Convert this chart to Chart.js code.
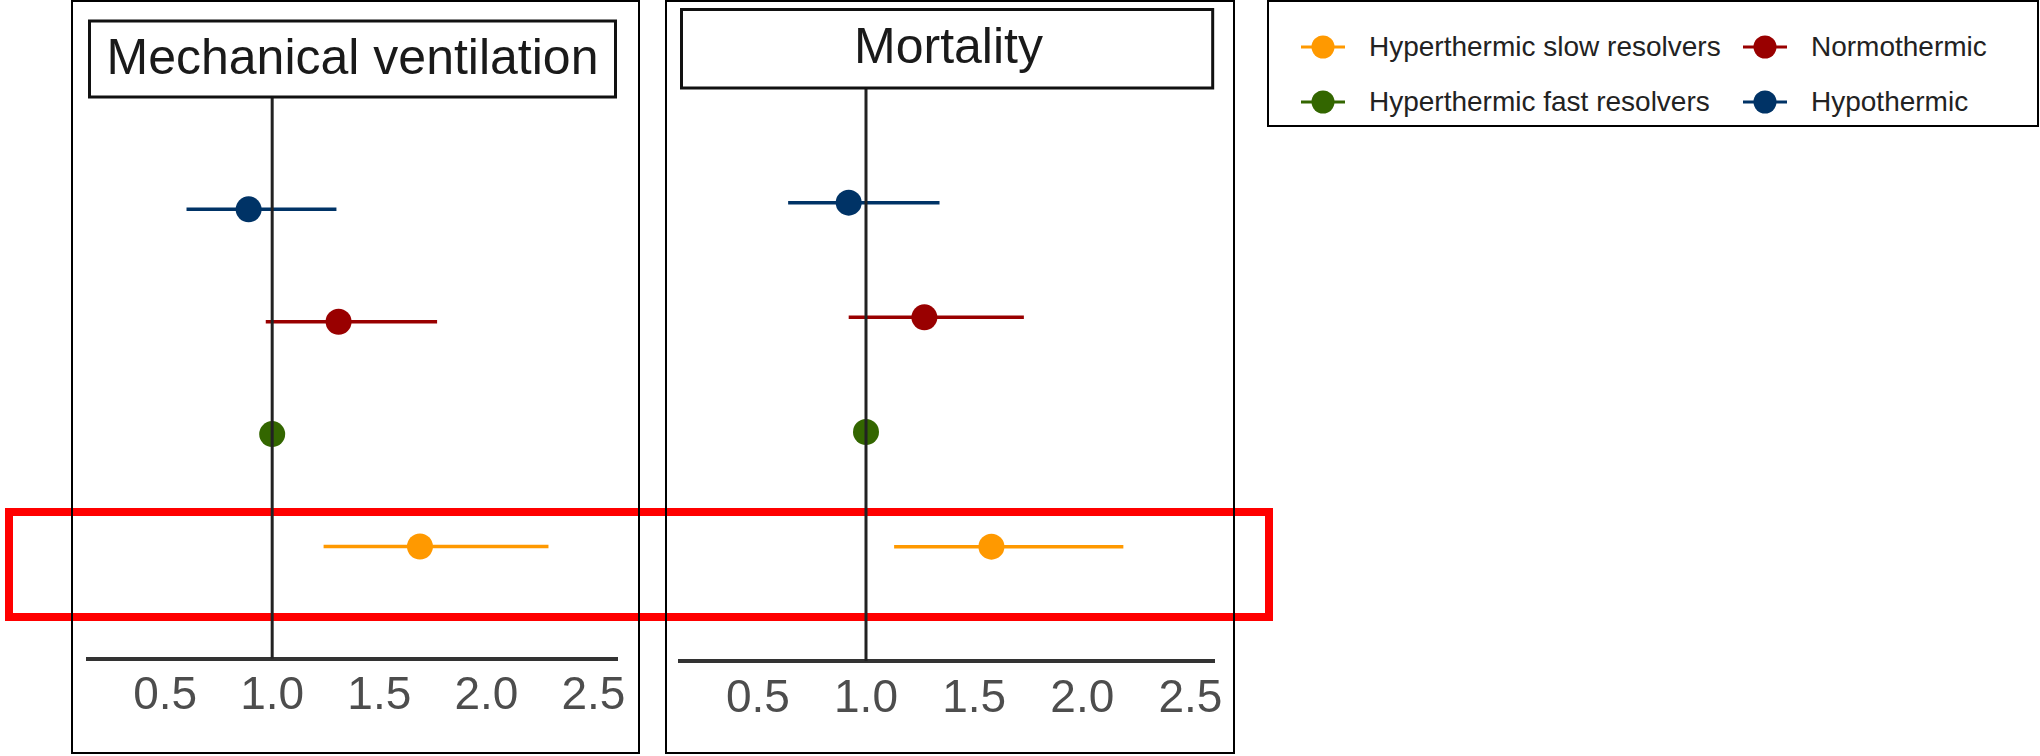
<!DOCTYPE html>
<html>
<head>
<meta charset="utf-8">
<script src="https://cdn.jsdelivr.net/npm/chart.js@4.4.1/dist/chart.umd.min.js"></script>
<style>
  body { margin: 0; width: 2040px; height: 756px; background: #fff; position: relative; overflow: hidden;
         font-family: "Liberation Sans", Arial, sans-serif; }
  .highlight { position: absolute; left: 5px; top: 508px; width: 1268px; height: 113px;
               border: 8px solid #ff0000; box-sizing: border-box; }
  .panel { position: absolute; top: 0; height: 754px; border: 2px solid #000; box-sizing: border-box; }
  .panel .wrap { position: absolute; left: 0; top: 0; width: 100%; height: 100%; }
  #legend { position: absolute; left: 1267px; top: 0; width: 772px; height: 127px;
            border: 2px solid #000; box-sizing: border-box; }
  .item { position: absolute; height: 34px; display: flex; align-items: center;
          font-size: 28px; color: #222; white-space: nowrap; }
  .item svg { margin-right: 24px; }
</style>
</head>
<body>
<div class="highlight"></div>
<div class="panel" style="left:71px;width:569px;"><div class="wrap"><canvas id="ventChart"></canvas></div></div>
<div class="panel" style="left:665px;width:570px;"><div class="wrap"><canvas id="mortChart"></canvas></div></div>
<div id="legend"></div>

<script>
// groups, bottom row first
const groups = ['Hyperthermic slow resolvers', 'Hyperthermic fast resolvers', 'Normothermic', 'Hypothermic'];
const groupColors = ['#FF9900', '#336600', '#990000', '#003366'];

const xTicks = [0.5, 1.0, 1.5, 2.0, 2.5];

// Mechanical ventilation
const ventEstimate = [1.69, 1.00, 1.31, 0.89];
const ventLower = [1.24, 1.00, 0.97, 0.60];
const ventUpper = [2.29, 1.00, 1.77, 1.30];

// Mortality
const mortEstimate = [1.58, 1.00, 1.27, 0.92];
const mortLower = [1.13, 1.00, 0.92, 0.64];
const mortUpper = [2.19, 1.00, 1.73, 1.34];

const FONT = '"Liberation Sans", Arial, sans-serif';

// box drawn round the panel title
const titleBox = {
    id: 'titleBox',
    afterDraw(chart, args, opts) {
        const { ctx, chartArea } = chart;
        ctx.save();
        ctx.strokeStyle = '#111';
        ctx.lineWidth = 3;
        ctx.strokeRect(chartArea.left + 1.5, opts.top, chartArea.width - 3, chartArea.top - opts.top);
        ctx.restore();
    }
};

function makePanel(canvasId, title, est, lo, hi, layout) {
    const datasets = [];

    // reference line at 1
    datasets.push({
        data: [{ x: 1, y: 0 }, { x: 1, y: 5 }],
        showLine: true,
        borderColor: '#222',
        borderWidth: 3,
        pointRadius: 0,
        order: 0
    });

    // confidence intervals
    groups.forEach((g, i) => {
        datasets.push({
            data: [{ x: lo[i], y: i + 1 }, { x: hi[i], y: i + 1 }],
            showLine: true,
            borderColor: groupColors[i],
            borderWidth: 3.5,
            pointRadius: 0,
            order: 2
        });
    });

    // point estimates
    datasets.push({
        data: est.map((v, i) => ({ x: v, y: i + 1 })),
        pointRadius: 13,
        pointBackgroundColor: groupColors,
        pointBorderWidth: 0,
        order: 1
    });

    return new Chart(document.getElementById(canvasId), {
        type: 'scatter',
        data: { datasets },
        plugins: [titleBox],
        options: {
            responsive: true,
            maintainAspectRatio: false,
            animation: false,
            layout: { padding: layout.padding },
            plugins: {
                legend: { display: false },
                tooltip: { enabled: false },
                title: {
                    display: true,
                    text: title,
                    color: '#1a1a1a',
                    font: { family: FONT, size: 50, weight: 'normal', lineHeight: 1.2 },
                    padding: layout.titlePadding
                },
                titleBox: { top: layout.boxTop }
            },
            scales: {
                x: {
                    type: 'linear',
                    min: 0.14,
                    max: 2.61,
                    afterBuildTicks: axis => { axis.ticks = xTicks.map(v => ({ value: v })); },
                    grid: { display: false, drawTicks: false },
                    border: { display: true, color: '#333', width: 4 },
                    ticks: {
                        padding: 10,
                        color: '#4d4d4d',
                        font: { family: FONT, size: 46, lineHeight: 1.2 },
                        callback: v => v.toFixed(1)
                    }
                },
                y: {
                    type: 'linear',
                    min: 0,
                    max: 5,
                    display: false
                }
            }
        }
    });
}

makePanel('ventChart', 'Mechanical ventilation', ventEstimate, ventLower, ventUpper, {
    padding: { left: 15, right: 21, top: 0, bottom: 18 },
    titlePadding: { top: 28, bottom: 7 },
    boxTop: 19
});

makePanel('mortChart', 'Mortality', mortEstimate, mortLower, mortUpper, {
    padding: { left: 11, right: 14, top: 0, bottom: 15.5 },
    titlePadding: { top: 17.5, bottom: 8.5 },
    boxTop: 7.5
});

// legend, filled column by column
const legend = document.getElementById('legend');
const colLeft = [32, 474];
const rowMid = [45, 100];
groups.forEach((g, i) => {
    const item = document.createElement('div');
    item.className = 'item';
    item.style.left = colLeft[Math.floor(i / 2)] + 'px';
    item.style.top = (rowMid[i % 2] - 17) + 'px';
    item.innerHTML =
        '<svg width="44" height="26"><line x1="0" y1="13" x2="44" y2="13" stroke="' + groupColors[i] +
        '" stroke-width="3"/><circle cx="22" cy="13" r="11.5" fill="' + groupColors[i] + '"/></svg>' +
        '<span>' + g + '</span>';
    legend.appendChild(item);
});
</script>
</body>
</html>
